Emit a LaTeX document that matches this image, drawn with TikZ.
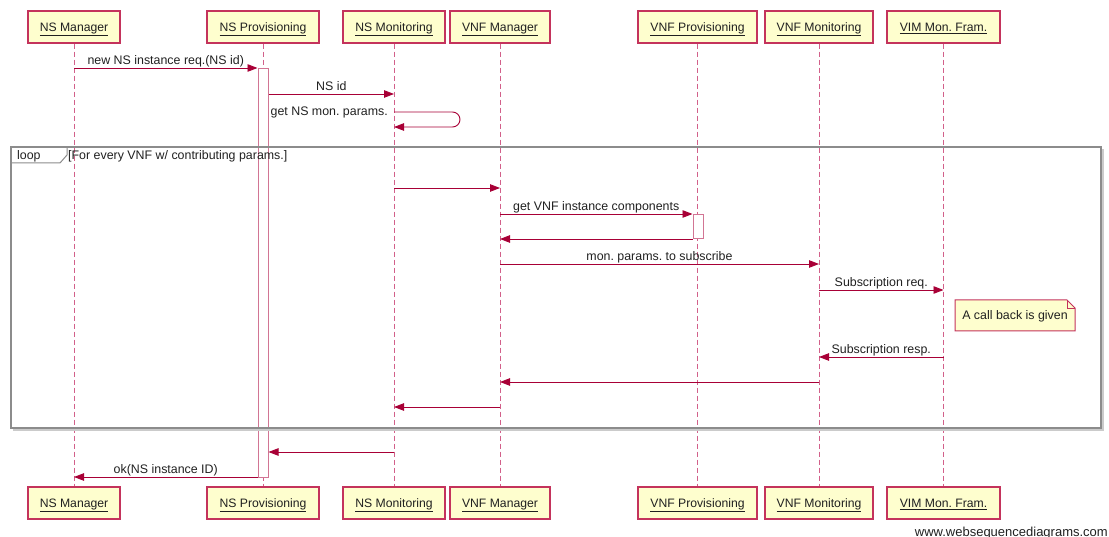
\documentclass[tikz,border=0pt]{standalone}
\usepackage{fontspec}
\setmainfont{Liberation Sans}
\usetikzlibrary{arrows.meta,calc}
\definecolor{edge}{HTML}{A80036}
\definecolor{boxline}{HTML}{C4335C}
\definecolor{actfill}{HTML}{FEFECE}
\definecolor{lifecol}{HTML}{D2608A}
\definecolor{barcol}{HTML}{D27594}
\definecolor{framecol}{HTML}{8C8C8C}
\definecolor{txt}{HTML}{202020}
\frenchspacing
\begin{document}
\begin{tikzpicture}[x=1pt,y=-1pt,
  actor/.style={draw=boxline, line width=1.3pt, fill=actfill, minimum height=32pt,
    inner sep=0pt, text height=8.5pt, text depth=0pt,
    font=\fontsize{12.2}{14}\selectfont, text=txt},
  life/.style={draw=lifecol, line width=1pt, dash pattern=on 5pt off 3pt},
  actbar/.style={draw=barcol, line width=1pt, fill=white, minimum width=10pt,
    inner sep=0pt, anchor=north},
  msg/.style={draw=edge, line width=0.9pt, -{Triangle[length=10pt,width=7.5pt]}},
  lbl/.style={anchor=base, yshift=3.5pt, inner sep=0pt,
    font=\fontsize{12.4}{14}\selectfont, text=txt},
  frame/.style={draw=framecol, line width=1.6pt},
  notebox/.style={draw=boxline, line width=1pt, fill=actfill}]
\useasboundingbox (0,0) rectangle (1109,537);

% participants, top and bottom
\foreach \n/\x/\w/\t in {nsm/74/92/NS Manager, nsp/263/112/NS Provisioning,
    nsmon/394/102/NS Monitoring, vnfm/500/100/VNF Manager,
    vnfp/697.5/119/VNF Provisioning, vnfmon/819/108/VNF Monitoring,
    vim/943.5/113/VIM Mon. Fram.}{
  \node[actor, minimum width=\w pt] (\n) at (\x,27) {\underline{\t}};
  \node[actor, minimum width=\w pt] (\n B) at (\x,503) {\underline{\t}};
  \draw[life] (\n.south) -- (\n B.north);
}

% activations
\node[actbar, minimum height=409pt] (pbar) at (263,68) {};
\node[actbar, minimum height=24pt] (vbar) at (698,214) {};

% loop frame
\draw[draw=framecol!45, line width=1.2pt] (13,430) -- (1103,430) -- (1103,149);
\draw[frame] (11,147) rectangle (1101,428);
\draw[draw=framecol, line width=1pt] (11,163) -- (60,163) -- (67,155) -- (67,147);
\node[anchor=base west, inner sep=0pt, font=\fontsize{12.4}{14}\selectfont, text=txt]
  (looptag) at (17,160) {loop};
\node[anchor=base west, inner sep=0pt, font=\fontsize{12.4}{14}\selectfont, text=txt]
  (loopcond) at (68,160) {[For every VNF w/ contributing params.]};

% messages
\draw[msg] (nsm |- 0,68) -- (pbar.west |- 0,68)
  node[lbl, midway] (m1) {new NS instance req.(NS id)};
\draw[msg] (pbar.east |- 0,94) -- (nsmon |- 0,94)
  node[lbl, midway] (m2) {NS id};
\draw[msg, rounded corners=7.5pt] (nsmon |- 0,112) -- (460,112) -- (460,127) -- (nsmon |- 0,127);
\node[anchor=base east, inner sep=0pt, font=\fontsize{12.4}{14}\selectfont, text=txt]
  (m3) at (388,116) {get NS mon. params.};

\draw[msg] (nsmon |- 0,188) -- (vnfm |- 0,188);
\draw[msg] (vnfm |- 0,214) -- (vbar.west |- 0,214)
  node[lbl, midway] (m5) {get VNF instance components};
\draw[msg] (vbar.west |- 0,239) -- (vnfm |- 0,239);
\draw[msg] (vnfm |- 0,264) -- (vnfmon |- 0,264)
  node[lbl, midway] (m7) {mon. params. to subscribe};
\draw[msg] (vnfmon |- 0,290) -- (vim |- 0,290)
  node[lbl, midway] (m8) {Subscription req.};

% note
\draw[notebox] (955,300) -- (1067,300) -- (1075,308) -- (1075,331) -- (955,331) -- cycle;
\draw[draw=boxline, line width=0.8pt] (1067,300) -- (1067,308) -- (1075,308);
\node[inner sep=0pt, font=\fontsize{12.4}{14}\selectfont, text=txt] (note) at (1015,316.5)
  {A call back is given};

\draw[msg] (vim |- 0,357) -- (vnfmon |- 0,357)
  node[lbl, midway] (m9) {Subscription resp.};
\draw[msg] (vnfmon |- 0,382) -- (vnfm |- 0,382);
\draw[msg] (vnfm |- 0,407) -- (nsmon |- 0,407);

\draw[msg] (nsmon |- 0,452) -- (pbar.east |- 0,452);
\draw[msg] (pbar.west |- 0,477) -- (nsm |- 0,477)
  node[lbl, midway] (m12) {ok(NS instance ID)};

% footer
\node[anchor=base east, inner sep=0pt, font=\fontsize{13}{15}\selectfont, text=txt]
  (credit) at (1108,536) {www.websequencediagrams.com};
\end{tikzpicture}
\end{document}
